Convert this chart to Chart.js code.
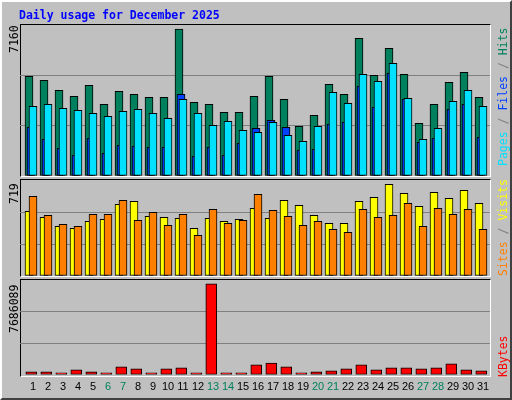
<!DOCTYPE html>
<html><head><meta charset="utf-8">
<script src="https://cdn.jsdelivr.net/npm/chart.js@4"></script>
<style>
html,body{margin:0;padding:0;background:#c0c0c0;}
#frame{position:absolute;left:0;top:0;width:508px;height:396px;background:#c0c0c0;border:2px solid;border-color:#ffffff #404040 #404040 #ffffff;}
.panel{position:absolute;left:20px;width:469px;background:#c0c0c0;border:1px solid;border-color:#000 #fff #fff #000;}
.c{position:absolute;left:0;}
.t{position:absolute;font-family:"DejaVu Sans Mono",monospace;font-size:11.5px;white-space:nowrap;line-height:12px;}
.rot{transform-origin:0 0;transform:rotate(-90deg);}
</style></head><body>
<div id="frame"></div>
<div class="panel" style="top:24px;height:151px"></div>
<div class="panel" style="top:179px;height:96px"></div>
<div class="panel" style="top:279px;height:96px"></div>
<div class="c" style="top:0"><canvas id="c1" width="512" height="176"></canvas></div>
<div class="c" style="top:0"><canvas id="c2" width="512" height="276"></canvas></div>
<div class="c" style="top:0"><canvas id="c3" width="512" height="400"></canvas></div>
<div class="t" style="left:19px;top:9px;color:#0000ff;font-weight:bold">Daily usage for December 2025</div>
<div class="t rot" style="left:8px;top:53px;color:#000">7160</div>
<div class="t rot" style="left:8px;top:204px;color:#000">719</div>
<div class="t rot" style="left:8px;top:333px;color:#000">7686089</div>
<div class="t rot" style="left:497px;top:166px"><span style="color:#00e0ff">Pages</span><span style="color:#808080"> / </span><span style="color:#0040ff">Files</span><span style="color:#808080"> / </span><span style="color:#00805c">Hits</span></div>
<div class="t rot" style="left:497px;top:276px"><span style="color:#ff8000">Sites</span><span style="color:#808080"> / </span><span style="color:#ffff00">Visits</span></div>
<div class="t rot" style="left:497px;top:377px;color:#ff0000">KBytes</div>
<script>
const days=[1,2,3,4,5,6,7,8,9,10,11,12,13,14,15,16,17,18,19,20,21,22,23,24,25,26,27,28,29,30,31];
const weekend=[6,7,13,14,20,21,27,28];
const hits=[4856,4661,4174,3881,4417,3492,4125,3979,3833,3833,7160,3589,3492,3102,3102,3881,4856,3735,2420,2956,4466,3979,6707,4904,6220,4953,2566,3492,4563,5051,3833];
const files=[3394,3492,3297,3199,3053,2907,3151,3248,3053,2810,3735,3053,2468,2663,2225,2127,2615,1981,1689,2420,4076,3540,4953,4612,5489,3784,1786,2322,3638,4174,3394];
const pages=[2371,1786,1348,1007,1835,1104,1494,1445,1397,1397,3979,958,1397,1007,1592,2322,2712,2371,1250,1299,2517,2615,4369,3345,5002,3735,1640,1835,3248,3492,1884];
const visits=[507,460,390,374,429,445,562,586,468,460,452,374,452,429,445,531,452,594,554,476,413,413,586,617,719,649,547,656,609,672,570];
const sites=[625,476,405,390,484,484,594,437,499,397,484,319,523,413,437,641,515,468,397,429,366,343,523,460,476,570,390,531,484,523,366];
const kbytes=[250000,250000,167000,418000,250000,167000,668000,501000,167000,501000,585000,167000,7686089,167000,167000,835000,1002000,668000,167000,250000,334000,501000,835000,418000,585000,585000,501000,585000,919000,418000,334000];

const XMIN=0.4, XMAX=0.4+470/15;
function pts(arr,off){return arr.map((v,i)=>({x:days[i]+off,y:v}));}
function ds(arr,off,color,w,ord){return {data:pts(arr,off),backgroundColor:color,borderColor:'#000',borderWidth:1,borderSkipped:false,barThickness:w,grouped:false,order:ord};}
function yScale(max){return {min:0,max:max,ticks:{display:false,stepSize:max/3},border:{display:false},
  grid:{drawTicks:false,tickLength:0,color:c=>(c.index===1||c.index===2)?'#808080':'rgba(0,0,0,0)',lineWidth:1}};}
function make(id,datasets,ymax,top,showX){
  const scales={x:{type:'linear',offset:false,min:XMIN,max:XMAX,display:false},y:yScale(ymax)};
  if(showX){scales.xl={type:'linear',offset:false,position:'bottom',min:XMIN-4/15,max:XMAX-4/15,
    afterBuildTicks:s=>{s.ticks=days.map(d=>({value:d}));},
    ticks:{autoSkip:false,maxRotation:0,padding:6,font:{family:'Liberation Sans',size:11},
      color:c=>weekend.includes(c.tick.value)?'#00805c':'#000',callback:v=>String(v)},
    grid:{display:false,drawTicks:false},border:{display:false}};}
  new Chart(document.getElementById(id),{type:'bar',data:{datasets},
    options:{responsive:false,animation:false,events:[],layout:{padding:{left:20,right:22,top:top,bottom:0}},
      plugins:{legend:{display:false},tooltip:{enabled:false}},scales}});
}
make('c1',[ds(hits,0,'#00805c',8,3),ds(pages,2/15,'#0040ff',8,2),ds(files,4/15,'#00e0ff',8,1)],7355,25,false);
make('c2',[ds(visits,0,'#ffff00',8,2),ds(sites,4/15,'#ff8000',8,1)],753,180,false);
make('c3',[ds(kbytes,2.3/15,'#ff0000',11,1)],8020267,280,true);
</script>
</body></html>
